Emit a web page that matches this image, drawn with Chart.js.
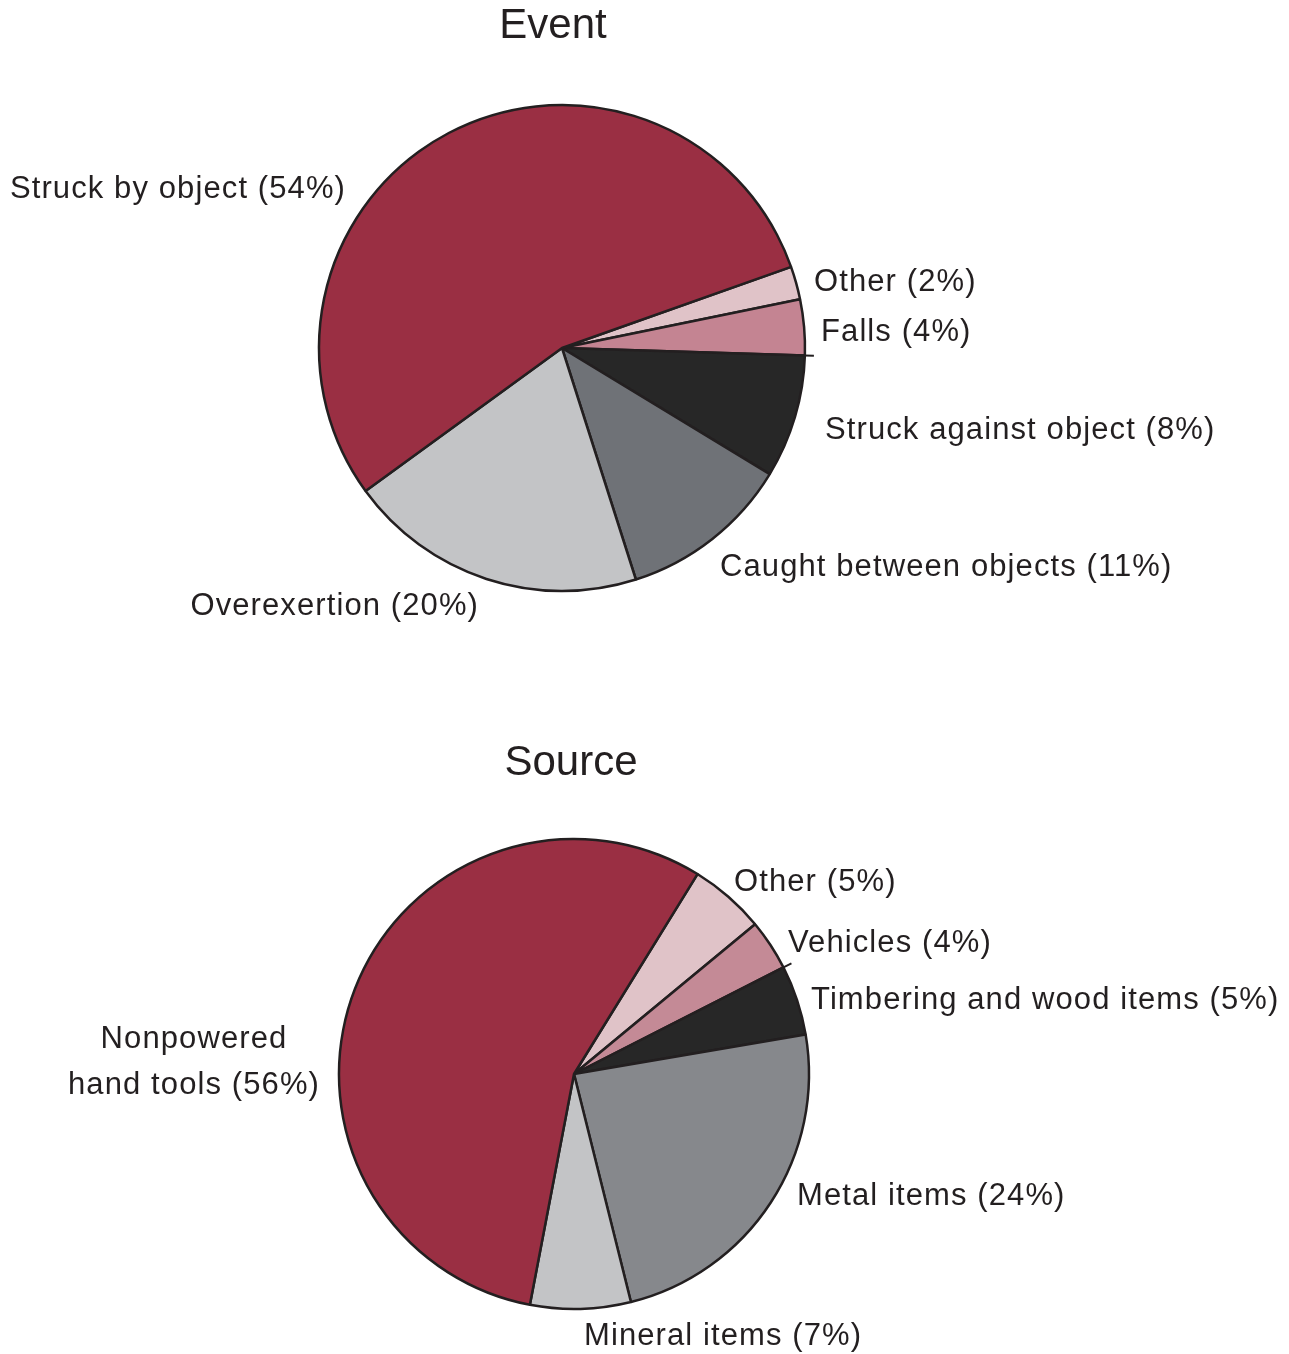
<!DOCTYPE html>
<html>
<head>
<meta charset="utf-8">
<script src="https://cdn.jsdelivr.net/npm/chart.js@4"></script>
<style>
html, body { margin: 0; padding: 0; background: #fff; }
#wrap { position: relative; width: 1289px; height: 1354px; }
.box { position: absolute; left: 0; width: 1289px; }
</style>
</head>
<body>
<div id="wrap">
  <div class="box" style="top:0;height:680px"><canvas id="event"></canvas></div>
  <div class="box" style="top:680px;height:674px"><canvas id="source"></canvas></div>
</div>
<script>
// slices go clockwise starting from the small "Other" wedge
const eventLabels = ['Other (2%)', 'Falls (4%)', 'Struck against object (8%)', 'Caught between objects (11%)', 'Overexertion (20%)', 'Struck by object (54%)'];
const eventValues = [2.2, 3.7, 8.2, 11.4, 19.9, 54.6];
const eventColors = ['#e0c3c8', '#c48492', '#272727', '#6f7277', '#c3c4c6', '#9a2f43'];

const sourceLabels = ['Other (5%)', 'Vehicles (4%)', 'Timbering and wood items (5%)', 'Metal items (24%)', 'Mineral items (7%)', ['Nonpowered', 'hand tools (56%)']];
const sourceValues = [5.2, 3.5, 4.8, 23.8, 6.9, 55.8];
const sourceColors = ['#e0c3c8', '#c48a96', '#272727', '#86888c', '#c3c4c6', '#9a2f43'];

const ink = '#231f20';
const fontFamily = '"Liberation Sans", Arial, Helvetica, sans-serif';

const sliceText = {
  id: 'sliceText',
  afterDraw(chart, args, opts) {
    const ctx = chart.ctx;
    const meta = chart.getDatasetMeta(0);
    ctx.save();
    ctx.fillStyle = ink;
    ctx.textBaseline = 'middle';

    // title
    ctx.font = '42px ' + fontFamily;
    ctx.textAlign = 'center';
    ctx.fillText(opts.title, opts.titleX, opts.titleY);

    // short leader ticks
    ctx.strokeStyle = ink;
    ctx.lineWidth = 2;
    (opts.ticks || []).forEach(i => {
      const a = meta.data[i];
      const ang = a.endAngle;
      ctx.beginPath();
      ctx.moveTo(a.x + Math.cos(ang) * a.outerRadius, a.y + Math.sin(ang) * a.outerRadius);
      ctx.lineTo(a.x + Math.cos(ang) * (a.outerRadius + 9), a.y + Math.sin(ang) * (a.outerRadius + 9));
      ctx.stroke();
    });

    // slice labels
    ctx.font = '31px ' + fontFamily;
    if ('letterSpacing' in ctx) ctx.letterSpacing = '1.1px';
    chart.data.labels.forEach((lab, i) => {
      const spot = opts.spots[i];
      const lines = Array.isArray(lab) ? lab : [lab];
      ctx.textAlign = spot.align;
      lines.forEach((ln, k) => {
        ctx.fillText(ln, spot.x, spot.y + k * 46);
      });
    });
    ctx.restore();
  }
};

function makePie(id, labels, values, colors, radius, rotation, padding, textOpts) {
  return new Chart(document.getElementById(id), {
    type: 'pie',
    data: {
      labels: labels,
      datasets: [{
        data: values,
        backgroundColor: colors,
        borderColor: ink,
        borderWidth: 2.5
      }]
    },
    options: {
      responsive: true,
      maintainAspectRatio: false,
      animation: false,
      radius: radius,
      rotation: rotation,
      layout: { padding: padding },
      plugins: {
        legend: { display: false },
        tooltip: { enabled: false },
        title: { display: false },
        sliceText: textOpts
      }
    },
    plugins: [sliceText]
  });
}

makePie('event', eventLabels, eventValues, eventColors, 243, 70.5,
  { left: 312, right: 477, top: 98, bottom: 82 },
  {
    title: 'Event', titleX: 553, titleY: 26,
    ticks: [1],
    spots: [
      { x: 814, y: 282, align: 'left' },
      { x: 821, y: 332, align: 'left' },
      { x: 825, y: 430, align: 'left' },
      { x: 720, y: 567, align: 'left' },
      { x: 479, y: 606, align: 'right' },
      { x: 346, y: 189, align: 'right' }
    ]
  });

makePie('source', sourceLabels, sourceValues, sourceColors, 235, 31.7,
  { left: 324, right: 465, top: 144, bottom: 30 },
  {
    title: 'Source', titleX: 571, titleY: 83,
    ticks: [1],
    spots: [
      { x: 734, y: 202, align: 'left' },
      { x: 788, y: 263, align: 'left' },
      { x: 811, y: 320, align: 'left' },
      { x: 797, y: 516, align: 'left' },
      { x: 584, y: 656, align: 'left' },
      { x: 194, y: 359, align: 'center' }
    ]
  });
</script>
</body>
</html>
